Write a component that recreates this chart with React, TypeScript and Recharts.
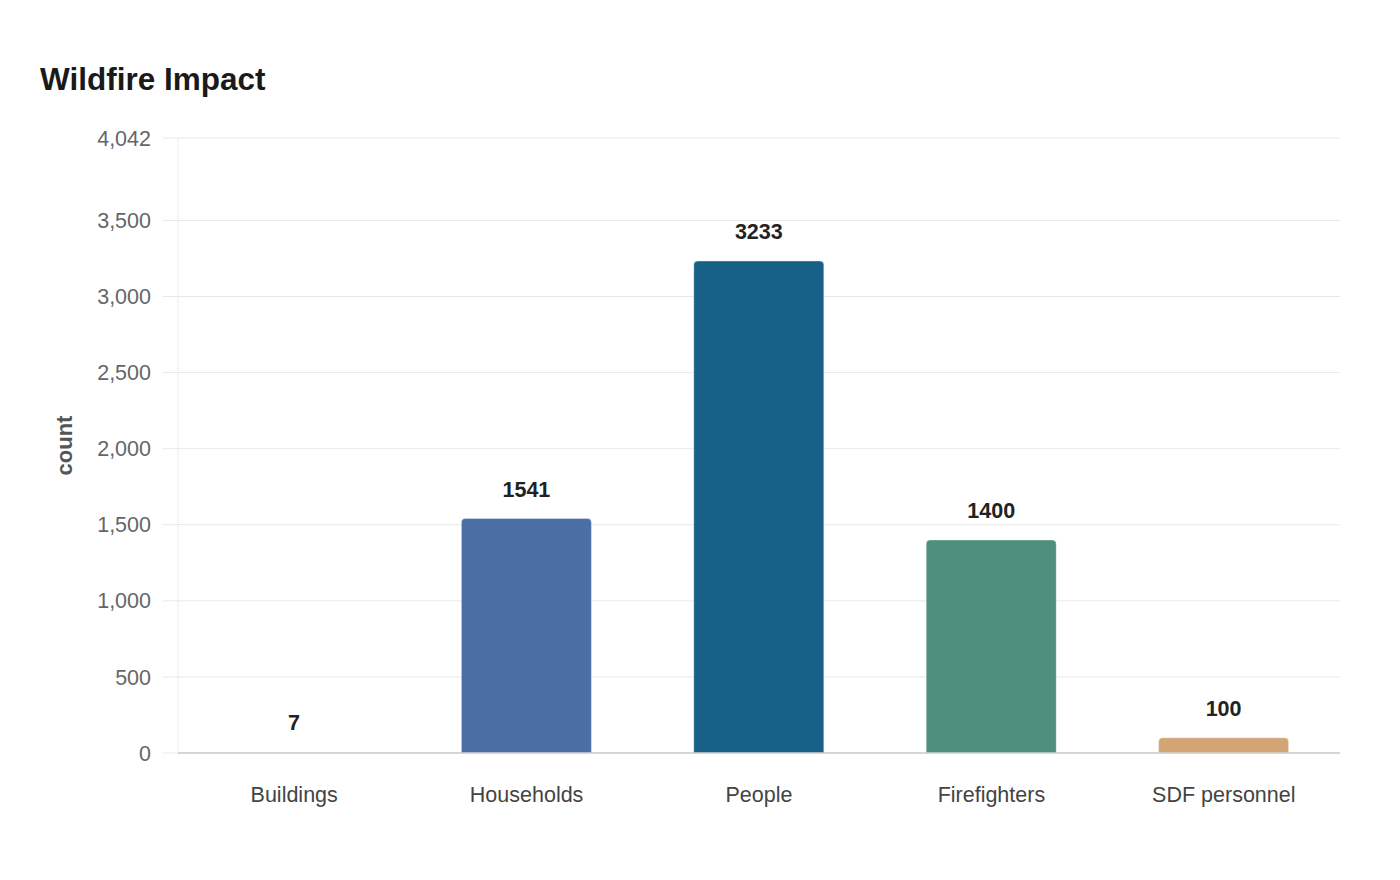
import React from 'react';
import { BarChart, Bar, XAxis, YAxis, CartesianGrid, Cell, LabelList, Label } from 'recharts';

const categories = ['Buildings', 'Households', 'People', 'Firefighters', 'SDF personnel'];
const counts = [7, 1541, 3233, 1400, 100];
const yTicks = [0, 500, 1000, 1500, 2000, 2500, 3000, 3500, 4042];
const yMax = 4042;

const BAR_COLORS = ['#dcdcdc', '#4a6fa5', '#176087', '#4e8f7e', '#d4a574'];
const FONT = '"Liberation Sans", Arial, sans-serif';

const data = categories.map((name, i) => ({ name, count: counts[i] }));

const formatTick = (v: number) => v.toLocaleString('en-US');

const CountLabel = (props: any) => {
  const vb = props.viewBox || {};
  const cy = (vb.y ?? 0) + (vb.height ?? 0) / 2;
  const cx = 64;
  return (
    <text
      x={cx}
      y={cy}
      transform={`rotate(-90, ${cx}, ${cy})`}
      textAnchor="middle"
      fontFamily={FONT}
      fontSize={22}
      fontWeight="bold"
      fill="#555"
    >
      count
    </text>
  );
};

export default function App() {
  return (
    <div style={{ position: 'relative', width: 1384, height: 864, fontFamily: FONT, background: '#fff' }}>
      <div
        style={{
          position: 'absolute',
          left: 32,
          top: 56,
          fontSize: 31.5,
          lineHeight: '31px',
          fontWeight: 'bold',
          color: '#1a1a1a',
          fontFamily: FONT,
        }}
      >
        Wildfire Impact
      </div>
      <BarChart
        width={1384}
        height={864}
        data={data}
        margin={{ top: 130, right: 52, bottom: 79, left: 0 }}
        style={{ fontFamily: FONT }}
      >
        <CartesianGrid vertical={false} stroke="#e8e8e8" strokeWidth={1} />
        <XAxis
          dataKey="name"
          height={40}
          tickLine={false}
          tickSize={6}
          tickMargin={28}
          axisLine={{ stroke: '#cccccc', strokeWidth: 1.5 }}
          tick={{ fill: '#444', fontSize: 21.5, fontFamily: FONT }}
          interval={0}
        />
        <YAxis
          width={170}
          domain={[0, yMax]}
          ticks={yTicks}
          interval={0}
          tickFormatter={formatTick}
          tickSize={15}
          tickMargin={12}
          tickLine={{ stroke: '#e8e8e8' }}
          axisLine={{ stroke: '#dadada', strokeDasharray: '1 1' }}
          tick={{ fill: '#666', fontSize: 21.5, fontFamily: FONT }}
        >
          <Label content={<CountLabel />} />
        </YAxis>
        <Bar
          dataKey="count"
          barSize={130}
          radius={[4, 4, 0, 0]}
          stroke="rgba(255,255,255,0.35)"
          strokeWidth={1}
          isAnimationActive={false}
        >
          {data.map((d, i) => (
            <Cell key={d.name} fill={BAR_COLORS[i]} />
          ))}
          <LabelList
            dataKey="count"
            position="top"
            offset={22}
            fill="#222"
            fontSize={21.5}
            fontWeight="bold"
            fontFamily={FONT}
          />
        </Bar>
      </BarChart>
    </div>
  );
}
